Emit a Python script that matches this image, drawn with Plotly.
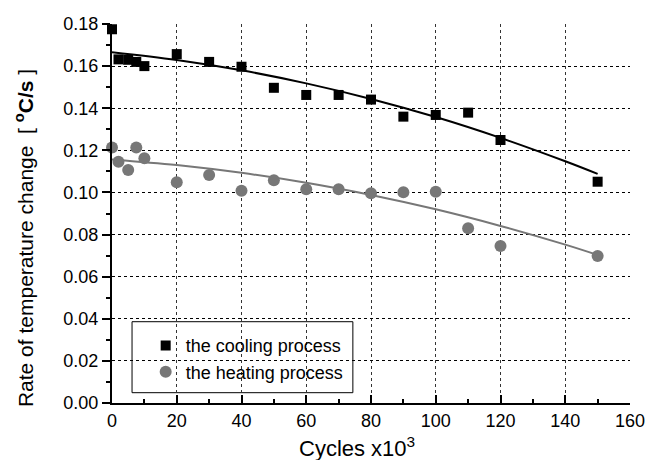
import plotly.graph_objects as go

# Data
cool_x = [0, 2, 5, 7.5, 10, 20, 30, 40, 50, 60, 70, 80, 90, 100, 110, 120, 150]
cool_y = [0.1775, 0.1632, 0.1630, 0.1620, 0.1600, 0.1657, 0.1620, 0.1597, 0.1497,
          0.1463, 0.1463, 0.1441, 0.1360, 0.1368, 0.1379, 0.1249, 0.1051]

heat_x = [0, 2, 5, 7.5, 10, 20, 30, 40, 50, 60, 70, 80, 90, 100, 110, 120, 150]
heat_y = [0.1213, 0.1146, 0.1107, 0.1213, 0.1162, 0.1048, 0.1083, 0.1008, 0.1058,
          0.1015, 0.1015, 0.0996, 0.1001, 0.1003, 0.0830, 0.0746, 0.0698]

fit_x = [0, 20, 40, 60, 80, 100, 120, 140, 150]
cool_fit_y = [0.1666, 0.1629, 0.1580, 0.1518, 0.1444, 0.1358, 0.1259, 0.1148, 0.1088]
heat_fit_y = [0.1157, 0.1130, 0.1093, 0.1046, 0.0988, 0.0920, 0.0841, 0.0752, 0.0703]

x_ticks = [0, 20, 40, 60, 80, 100, 120, 140, 160]
y_ticks = [0.00, 0.02, 0.04, 0.06, 0.08, 0.10, 0.12, 0.14, 0.16, 0.18]

FONT = "Arial, Liberation Sans, sans-serif"
GREY = "#777777"

fig = go.Figure()
fig.add_trace(go.Scatter(x=fit_x, y=cool_fit_y, mode="lines", line=dict(color="black", width=2, shape="spline"),
                         showlegend=False, hoverinfo="skip"))
fig.add_trace(go.Scatter(x=fit_x, y=heat_fit_y, mode="lines", line=dict(color=GREY, width=2, shape="spline"),
                         showlegend=False, hoverinfo="skip"))
fig.add_trace(go.Scatter(x=cool_x, y=cool_y, mode="markers", name="the cooling process",
                         marker=dict(symbol="square", size=10, color="black"), cliponaxis=False))
fig.add_trace(go.Scatter(x=heat_x, y=heat_y, mode="markers", name="the heating process",
                         marker=dict(symbol="circle", size=12, color=GREY), cliponaxis=False))

fig.update_layout(
    width=657, height=460,
    margin=dict(l=112, r=21, t=24, b=57),
    paper_bgcolor="white", plot_bgcolor="white",
    font=dict(family=FONT, color="black", size=18),
    showlegend=True,
    legend=dict(x=0.065, y=0.20, xanchor="left", yanchor="top", bgcolor="rgba(0,0,0,0)",
                borderwidth=0, font=dict(size=18, family=FONT), tracegroupgap=0),
    shapes=[dict(type="rect", xref="paper", yref="paper", x0=0.0387, x1=0.465, y0=0.0272, y1=0.2145,
                 line=dict(color="black", width=1), fillcolor="white", layer="between")],
    annotations=[
        dict(text="Rate of temperature change  [ <b><sup>o</sup>C/s</b> ]", textangle=-90,
             xref="paper", yref="paper", x=-0.17, y=0.435, xanchor="center", yanchor="middle",
             showarrow=False, font=dict(size=21, family=FONT)),
        dict(text="Cycles x10<sup>3</sup>", xref="paper", yref="paper", x=0.473, y=-0.075,
             xanchor="center", yanchor="top", showarrow=False, font=dict(size=22, family=FONT)),
    ],
)

fig.update_xaxes(range=[0, 160], tickvals=x_ticks, ticks="inside", ticklen=8, tickwidth=1.5,
                 tickcolor="black", showline=True, linecolor="black", linewidth=2,
                 showgrid=True, gridcolor="#333333", gridwidth=1, griddash="3px,3px",
                 zeroline=False, tickfont=dict(size=18, family=FONT),
                 minor=dict(dtick=10, ticks="inside", ticklen=4, tickcolor="black", showgrid=False))
fig.update_yaxes(range=[0, 0.18], tickvals=y_ticks, tickformat=".2f", ticks="outside", ticklen=8,
                 tickwidth=1.5, tickcolor="black", showline=True, linecolor="black", linewidth=2,
                 showgrid=True, gridcolor="black", gridwidth=1, griddash="3px,3px",
                 zeroline=False, tickfont=dict(size=18, family=FONT),
                 minor=dict(dtick=0.01, ticks="outside", ticklen=4, tickcolor="black", showgrid=False))

fig.write_html("out.html")
